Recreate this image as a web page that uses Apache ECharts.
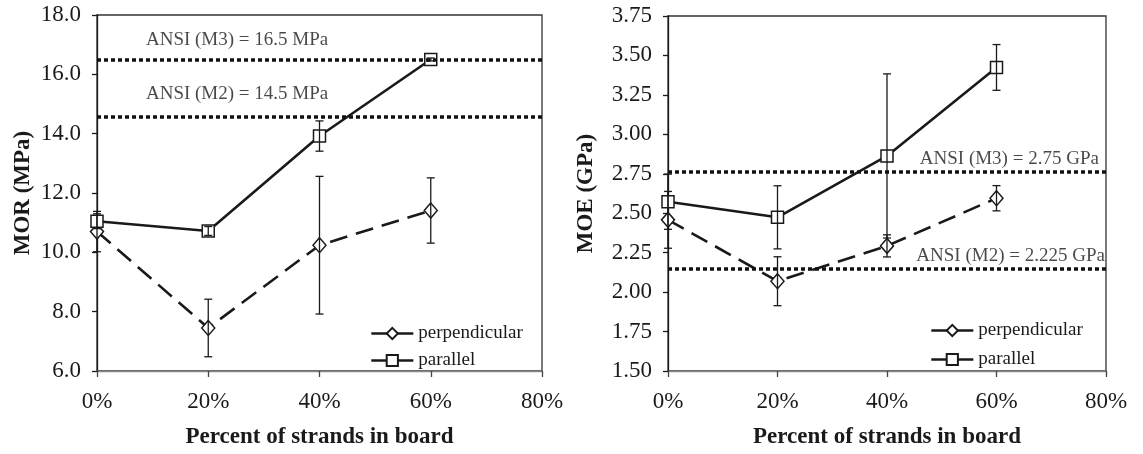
<!DOCTYPE html>
<html>
<head>
<meta charset="utf-8">
<script src="https://cdn.jsdelivr.net/npm/echarts@6/dist/echarts.min.js"></script>
<style>
  html, body { margin: 0; padding: 0; background: #fff; }
  #chart { width: 1143px; height: 454px; }
</style>
</head>
<body>
<div id="chart"></div>
<script>
// percent of strands in board
const xPct = [0, 20, 40, 60];

// MOR (MPa)
const morPerp = [10.70, 7.45, 10.24, 11.41];
const morPerpErr = [0.68, 0.97, 2.32, 1.10];
const morPar = [11.05, 10.72, 13.92, 16.50];
const morParErr = [0.25, 0.15, 0.51, 0.05];
const morRef = [16.49, 14.58];

// MOE (GPa)
const moePerp = [2.458, 2.069, 2.293, 2.595];
const moePerpErr = [0.18, 0.155, 0.07, 0.08];
const moePar = [2.573, 2.474, 2.863, 3.424];
const moeParErr = [0.175, 0.20, 0.52, 0.145];
const moeRef = [2.761, 2.148];

// annotation text anchored in data units [x, y, text]
const morNotes = [[8.8, 17.16, 'ANSI (M3) = 16.5 MPa'], [8.8, 15.32, 'ANSI (M2) = 14.5 MPa']];
const moeNotes = [[78.7, 2.845, 'ANSI (M3) = 2.75 GPa'], [79.8, 2.23, 'ANSI (M2) = 2.225 GPa']];

const FONT = 'Liberation Serif';
const INK = '#1a1a1a';

function lineSeries(name, idx, vals, dashed, refs) {
  const s = {
    name: name,
    type: 'line',
    xAxisIndex: idx,
    yAxisIndex: idx,
    data: vals.map((v, i) => [xPct[i], v]),
    symbol: dashed ? 'diamond' : 'rect',
    symbolSize: dashed ? [13, 15] : 12,
    itemStyle: { color: '#fff', borderColor: INK, borderWidth: 1.5 },
    lineStyle: { color: INK, width: 2.6, type: dashed ? [18, 9] : 'solid' },
    z: 3
  };
  if (refs) {
    s.markLine = {
      symbol: 'none',
      silent: true,
      label: { show: false },
      lineStyle: { color: '#111', width: 3.5, type: [4, 3] },
      data: refs.map(v => ({ yAxis: v }))
    };
  }
  return s;
}

function errSeries(idx, vals, errs) {
  return {
    type: 'custom',
    xAxisIndex: idx,
    yAxisIndex: idx,
    silent: true,
    z: 4,
    data: vals.map((v, i) => [xPct[i], v - errs[i], v + errs[i]]),
    encode: { x: 0, y: [1, 2] },
    renderItem: function (params, api) {
      const x = api.value(0);
      const lo = api.coord([x, api.value(1)]);
      const hi = api.coord([x, api.value(2)]);
      const w = 4;
      const st = { stroke: INK, lineWidth: 1.3 };
      return {
        type: 'group',
        children: [
          { type: 'line', shape: { x1: lo[0], y1: lo[1], x2: hi[0], y2: hi[1] }, style: st },
          { type: 'line', shape: { x1: lo[0] - w, y1: lo[1], x2: lo[0] + w, y2: lo[1] }, style: st },
          { type: 'line', shape: { x1: hi[0] - w, y1: hi[1], x2: hi[0] + w, y2: hi[1] }, style: st }
        ]
      };
    }
  };
}

function noteSeries(idx, notes, pos) {
  return {
    type: 'scatter',
    xAxisIndex: idx,
    yAxisIndex: idx,
    silent: true,
    symbolSize: 0,
    data: notes,
    label: {
      show: true,
      position: pos,
      distance: 0,
      formatter: p => p.data[2],
      fontFamily: FONT,
      fontSize: 19,
      color: INK
    }
  };
}

function xAxis(idx) {
  return {
    type: 'value',
    gridIndex: idx,
    min: 0, max: 80, interval: 20,
    name: 'Percent of strands in board',
    nameLocation: 'middle',
    nameGap: 55,
    nameTextStyle: { fontFamily: FONT, fontSize: 23, fontWeight: 'bold', color: INK },
    axisLine: { lineStyle: { color: '#888', width: 1.3 } },
    axisTick: { length: 6, lineStyle: { color: '#444', width: 1.3 } },
    axisLabel: { formatter: v => v + '%', margin: 19, fontFamily: FONT, fontSize: 23, color: INK },
    splitLine: { show: false }
  };
}

function yAxis(idx, name, min, max, step, digits, gap) {
  return {
    type: 'value',
    gridIndex: idx,
    min: min, max: max, interval: step,
    name: name,
    nameLocation: 'middle',
    nameGap: gap,
    nameTextStyle: { fontFamily: FONT, fontSize: 23, fontWeight: 'bold', color: INK },
    axisLine: { show: true, lineStyle: { color: INK, width: 1.3 } },
    axisTick: { show: true, length: 5, lineStyle: { color: INK, width: 1.3 } },
    axisLabel: { formatter: v => v.toFixed(digits), margin: 16, fontFamily: FONT, fontSize: 23, color: INK },
    splitLine: { show: false }
  };
}

function legend(left, top, gap) {
  return {
    left: left, top: top,
    orient: 'vertical',
    itemGap: gap,
    itemWidth: 42,
    itemHeight: 14,
    data: ['perpendicular', 'parallel'],
    lineStyle: { type: 'solid', width: 2.6, color: INK },
    textStyle: { fontFamily: FONT, fontSize: 19, color: INK }
  };
}

const chart = echarts.init(document.getElementById('chart'));
chart.setOption({
  animation: false,
  backgroundColor: '#fff',
  grid: [
    { left: 97, top: 15, width: 445, height: 359, show: true, borderColor: '#333', borderWidth: 1.3 },
    { left: 668, top: 16, width: 438, height: 358, show: true, borderColor: '#333', borderWidth: 1.3 }
  ],
  legend: [legend(365, 319, 8), legend(925, 316, 10)],
  xAxis: [xAxis(0), xAxis(1)],
  yAxis: [
    yAxis(0, 'MOR (MPa)', 6, 18, 2, 1, 62),
    yAxis(1, 'MOE (GPa)', 1.5, 3.75, 0.25, 2, 70)
  ],
  series: [
    lineSeries('perpendicular', 0, morPerp, true),
    lineSeries('parallel', 0, morPar, false, morRef),
    errSeries(0, morPerp, morPerpErr),
    errSeries(0, morPar, morParErr),
    noteSeries(0, morNotes, 'right'),
    lineSeries('perpendicular', 1, moePerp, true),
    lineSeries('parallel', 1, moePar, false, moeRef),
    errSeries(1, moePerp, moePerpErr),
    errSeries(1, moePar, moeParErr),
    noteSeries(1, moeNotes, 'left')
  ]
});
</script>
</body>
</html>
